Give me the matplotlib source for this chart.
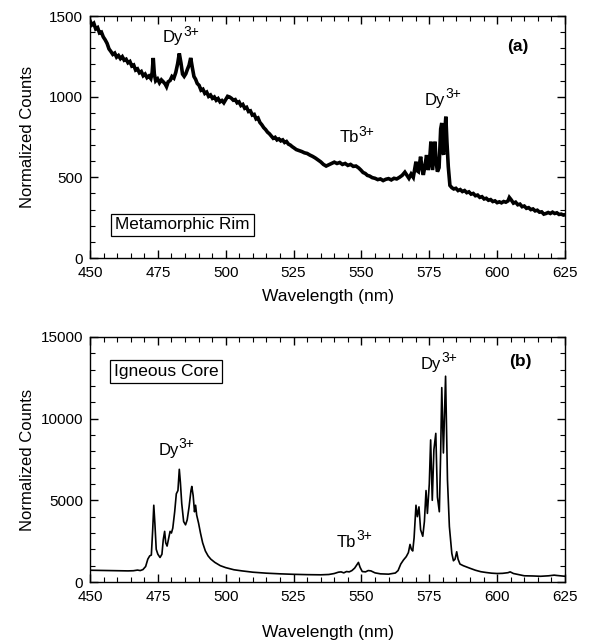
import matplotlib
matplotlib.use("Agg")
import matplotlib.pyplot as plt
from matplotlib.ticker import MultipleLocator

plt.rcParams['font.family'] = ['Liberation Sans', 'DejaVu Sans']

# ---- (a) Metamorphic Rim: (wavelength nm, normalized counts) ----
spectrum_a = [
    (450, 1470), (450.7, 1445), (451.4, 1455), (452.1, 1420), (452.8, 1428), (453.5, 1395),
    (454.2, 1400), (454.9, 1370), (455.6, 1352), (456.3, 1330), (457, 1296), (457.7, 1280),
    (458.4, 1262), (459.1, 1270), (459.8, 1245), (460.5, 1255), (461.2, 1236), (461.9, 1248),
    (462.6, 1226), (463.3, 1232), (464, 1210), (464.7, 1218), (465.4, 1190), (466.1, 1196),
    (466.8, 1165), (467.5, 1172), (468.2, 1148), (468.9, 1156), (469.6, 1130), (470.3, 1140),
    (471, 1118), (471.7, 1128), (472.4, 1112), (472.9, 1150), (473.3, 1240), (473.7, 1140),
    (474.2, 1098), (474.9, 1110), (475.6, 1086), (476.3, 1104), (477, 1092), (477.7, 1078),
    (478.2, 1062), (478.8, 1092), (479.5, 1100), (480.2, 1125), (480.9, 1115), (481.6, 1150),
    (482.3, 1205), (482.9, 1268), (483.5, 1210), (484.1, 1140), (484.7, 1126), (485.3, 1142),
    (485.9, 1170), (486.5, 1195), (487.1, 1240), (487.7, 1180), (488.3, 1125), (488.9, 1108),
    (489.5, 1082), (490.2, 1070), (490.9, 1040), (491.6, 1046), (492.3, 1020), (493, 1028),
    (493.7, 1002), (494.4, 1010), (495.1, 990), (495.8, 998), (496.5, 978), (497.2, 988),
    (497.9, 968), (498.6, 976), (499.3, 962), (500, 982), (500.7, 1002), (501.4, 998),
    (502.1, 990), (502.8, 978), (503.5, 982), (504.2, 962), (504.9, 968), (505.6, 945),
    (506.3, 952), (507, 928), (507.7, 934), (508.4, 908), (509.1, 912), (509.8, 886),
    (510.5, 890), (511.2, 862), (511.9, 868), (512.6, 840), (513.3, 826), (514, 808),
    (514.7, 796), (515.4, 780), (516.1, 770), (516.8, 756), (517.5, 742), (518.2, 748),
    (518.9, 732), (519.6, 738), (520.3, 726), (521, 732), (521.7, 716), (522.4, 722),
    (523.1, 706), (523.8, 700), (524.5, 690), (525.2, 682), (526, 672), (527, 666),
    (528, 660), (529, 652), (530, 648), (531, 638), (532, 630), (533, 620), (534, 608),
    (535, 596), (536, 580), (537, 570), (538, 578), (539, 586), (540, 594), (541, 586),
    (542, 592), (543, 580), (544, 586), (545, 574), (546, 580), (547, 568), (548, 570),
    (549, 558), (549.8, 545), (550.6, 530), (551.4, 524), (552.2, 512), (553, 508),
    (554, 498), (555, 494), (556, 486), (557, 490), (558, 480), (559, 488), (560, 492),
    (561, 484), (562, 494), (563, 490), (564, 500), (565, 512), (566, 532), (566.8, 512),
    (567.5, 494), (568.3, 520), (569.1, 500), (570.1, 597), (570.6, 540), (571, 535),
    (571.8, 628), (572.3, 560), (572.8, 515), (573.4, 570), (574, 638), (574.6, 545),
    (575.1, 600), (575.6, 721), (576.2, 545), (576.7, 640), (577.1, 721), (577.5, 600),
    (578, 535), (578.6, 560), (579.2, 800), (579.6, 837), (579.9, 660), (580.3, 640),
    (580.7, 780), (581.1, 876), (581.5, 720), (582, 566), (582.6, 450), (583.3, 436),
    (584, 428), (584.8, 432), (585.6, 418), (586.4, 424), (587.2, 412), (588, 418),
    (588.8, 405), (589.6, 410), (590.4, 396), (591.2, 400), (592, 386), (592.8, 390),
    (593.6, 376), (594.4, 380), (595.2, 366), (596, 370), (596.8, 358), (597.6, 362),
    (598.4, 350), (599.2, 354), (600, 343), (600.8, 348), (601.6, 342), (602.4, 350),
    (603.2, 346), (604, 354), (604.5, 375), (605.2, 360), (606, 340), (606.8, 346),
    (607.6, 330), (608.4, 334), (609.2, 318), (610, 322), (610.8, 308), (611.6, 312),
    (612.4, 300), (613.2, 304), (614, 292), (614.8, 296), (615.6, 284), (616.4, 286),
    (617.2, 272), (618, 276), (618.8, 282), (619.6, 276), (620.4, 284), (621.2, 276),
    (622, 280), (622.8, 270), (623.6, 272), (624.4, 266), (625, 268),
]

# ---- (b) Igneous Core: (wavelength nm, normalized counts) ----
spectrum_b = [
    (450, 720), (452, 715), (455, 710), (458, 700), (461, 690), (464, 680), (466, 690),
    (467.5, 730), (468.5, 700), (469.5, 760), (470.5, 950), (471.3, 1400), (472, 1600),
    (472.6, 1650), (473.1, 3200), (473.5, 4700), (473.9, 3600), (474.4, 2000), (475, 1700),
    (475.8, 1500), (476.5, 1700), (477, 2600), (477.5, 3100), (477.9, 2400), (478.4, 2200),
    (479, 2700), (479.5, 3100), (480, 3000), (480.5, 3300), (481.2, 4300), (481.8, 5400),
    (482.4, 5600), (482.9, 6900), (483.3, 6100), (483.8, 4800), (484.5, 3700), (485.2, 3500),
    (485.8, 3800), (486.5, 4600), (487.2, 5600), (487.5, 5850), (488, 5300), (488.5, 4300),
    (488.9, 4700), (489.3, 4100), (490, 3600), (490.7, 3000), (491.5, 2400), (492.5, 1900),
    (493.5, 1600), (494.5, 1400), (496, 1200), (498, 1000), (500, 880), (503, 750), (506, 680),
    (510, 600), (515, 540), (520, 500), (525, 470), (530, 450), (535, 440), (538, 460),
    (540, 520), (541.5, 600), (542.5, 620), (543.5, 560), (544.5, 640), (545.5, 620),
    (546.5, 700), (547.5, 850), (548.3, 1050), (548.9, 1200), (549.5, 900), (550.3, 640),
    (551.5, 620), (552.5, 700), (553.5, 680), (555, 560), (557, 500), (560, 480), (562.5, 550),
    (563.5, 700), (564.5, 1100), (565.5, 1350), (566.5, 1550), (567.3, 1800), (567.9, 2300),
    (568.4, 2000), (568.9, 1900), (569.4, 2700), (570.1, 4700), (570.6, 4000), (571.2, 4600),
    (571.8, 3200), (572.6, 2800), (573.2, 3700), (573.8, 5600), (574.3, 4200), (575, 6000),
    (575.5, 8700), (576.1, 5000), (576.7, 8100), (577.4, 9100), (578, 5200), (578.7, 4300),
    (579.2, 8000), (579.6, 11900), (580.2, 7900), (581, 12600), (581.7, 6250), (582.4, 3400),
    (583.3, 1750), (583.9, 1300), (584.5, 1400), (585.1, 1850), (585.6, 1400), (586.3, 1100),
    (587.5, 1000), (589, 900), (590, 840), (592, 720), (594, 630), (596, 580), (598, 540),
    (600, 520), (602, 530), (604, 570), (604.8, 620), (606, 520), (608, 450), (610, 380),
    (613, 370), (616, 350), (619, 380), (621, 420), (622, 400), (625, 350),
]

wl_a = [p[0] for p in spectrum_a]
counts_a = [p[1] for p in spectrum_a]
wl_b = [p[0] for p in spectrum_b]
counts_b = [p[1] for p in spectrum_b]

xticks = [450, 475, 500, 525, 550, 575, 600, 625]
yticks_a = [0, 500, 1000, 1500]
yticks_b = [0, 5000, 10000, 15000]

fig = plt.figure(figsize=(5.90, 6.44), dpi=100)
ax1 = fig.add_axes([90/590, 1-258/644, 475/590, 242/644])
ax2 = fig.add_axes([90/590, 1-582/644, 475/590, 245/644])

def style(ax, yticks, ymin_loc):
    ax.set_xlim(450, 625)
    ax.set_ylim(yticks[0], yticks[-1])
    ax.set_xticks(xticks)
    ax.set_yticks(yticks)
    ax.xaxis.set_minor_locator(MultipleLocator(5))
    ax.yaxis.set_minor_locator(MultipleLocator(ymin_loc))
    ax.tick_params(which='both', direction='in', top=True, right=True, labelsize=11, color='black')
    ax.tick_params(which='major', length=6, width=1)
    ax.tick_params(which='minor', length=3.5, width=0.8)
    ax.tick_params(axis='x', pad=6)
    ax.tick_params(axis='y', pad=5)
    for s in ax.spines.values():
        s.set_linewidth(1.0)
    ax.set_ylabel('Normalized Counts', fontsize=12)
    ax.yaxis.set_label_coords(-0.115, 0.5)

ax1.plot(wl_a, counts_a, color='black', lw=2.6, solid_joinstyle='miter')
ax2.plot(wl_b, counts_b, color='black', lw=1.2)
style(ax1, yticks_a, 100)
style(ax2, yticks_b, 1000)

ax1.set_xlabel('Wavelength (nm)', fontsize=12.5)
ax1.xaxis.set_label_coords(0.5, -0.13)
ax2.set_xlabel('Wavelength (nm)', fontsize=12.5)
ax2.xaxis.set_label_coords(0.5, -0.175)

def ion(ax, x, y, base):
    t = ax.text(x, y, base, fontsize=12, ha='left', va='baseline')
    ax.annotate('3+', xy=(1.0, 0.64), xycoords=t, fontsize=10, ha='left', va='baseline')

ion(ax1, 476.9, 1337, 'Dy')
ion(ax1, 541.9, 717, 'Tb')
ion(ax1, 573.4, 948, 'Dy')
ax1.text(607.5, 1311, '(a)', fontsize=12.5, fontweight='bold', ha='center', va='center')
ax1.text(459.3, 205, 'Metamorphic Rim', fontsize=12.3, ha='left', va='center',
         bbox=dict(boxstyle='square,pad=0.22', fc='white', ec='black', lw=0.9))

ion(ax2, 475.2, 7775, 'Dy')
ion(ax2, 540.9, 2150, 'Tb')
ion(ax2, 571.8, 13050, 'Dy')
ax2.text(608.4, 13470, '(b)', fontsize=12.5, fontweight='bold', ha='center', va='center')
ax2.text(458.7, 12890, 'Igneous Core', fontsize=12.5, ha='left', va='center',
         bbox=dict(boxstyle='square,pad=0.22', fc='white', ec='black', lw=0.9))

fig.savefig('out.png', dpi=100)
